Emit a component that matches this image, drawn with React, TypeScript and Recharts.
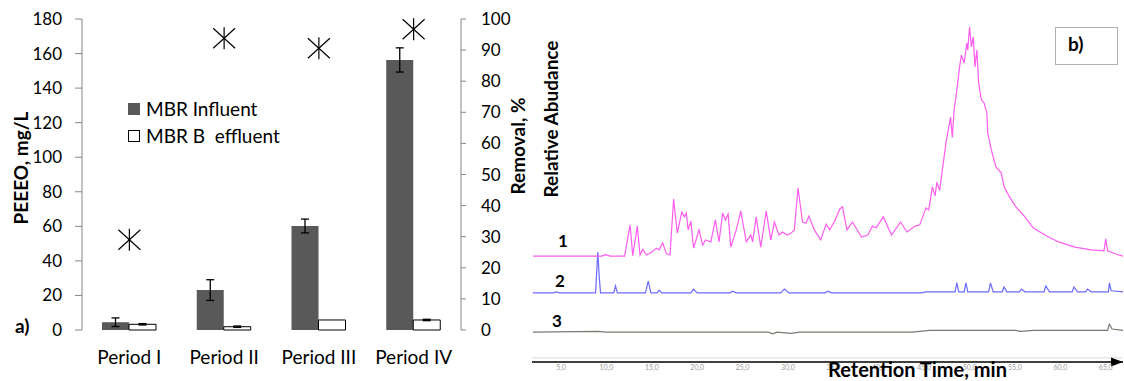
import {
  ComposedChart,
  LineChart,
  Bar,
  Line,
  XAxis,
  YAxis,
  ErrorBar,
  Legend,
  ReferenceLine,
} from "recharts";

// ---- panel a) PEEEO in MBR influent / effluent ----
const periods = ["Period I", "Period II", "Period III", "Period IV"];
const influent = [4.5, 23.1, 60.2, 156.3];
const influentErr = [2.5, 6, 4, 7];
const effluent = [3.3, 1.9, 5.8, 5.8];
const effluentErr = [0.4, 0.4, 0, 0.4];
const removal = [29, 93.8, 90.6, 96.7];
const concTicks = [0, 20, 40, 60, 80, 100, 120, 140, 160, 180];
const removalTicks = [0, 10, 20, 30, 40, 50, 60, 70, 80, 90, 100];
const boundaryTicks = [0, 1, 2, 3, 4];
const legendOrder = ["influent", "effluent"];

// ---- panel b) chromatograms: [retention time min, relative abundance] ----
const rtTicks = [5, 10, 15, 20, 25, 30, 35, 40, 45, 50, 55, 60, 65];

const trace1: [number, number][] = [
  [1.9, 30.8], [9.5, 30.8], [9.9, 31.2], [10.4, 30.8], [12.0, 30.8], [12.6, 39.8],
  [12.9, 30.9], [13.4, 39.5], [13.7, 31.1], [14.0, 32.8], [14.4, 31.1], [15.0, 32.0],
  [15.5, 33.1], [15.8, 32.6], [16.2, 34.6], [16.6, 31.5], [17.0, 31.1], [17.4, 47.4],
  [17.8, 37.5], [18.3, 43.6], [18.6, 42.2], [18.8, 43.3], [19.0, 38.4], [19.3, 41.0],
  [19.6, 33.1], [20.2, 38.4], [20.6, 34.0], [20.9, 35.5], [21.5, 34.9], [22.0, 41.3],
  [22.4, 34.9], [22.8, 43.3], [23.1, 41.3], [23.4, 43.0], [23.7, 33.4], [24.3, 38.4],
  [24.8, 43.9], [25.4, 34.9], [25.9, 36.9], [26.1, 34.9], [26.5, 42.2], [27.0, 33.4],
  [27.6, 43.9], [28.1, 35.5], [28.5, 40.7], [29.0, 36.9], [29.4, 37.8], [29.9, 36.9],
  [30.3, 37.4], [30.7, 38.4], [31.1, 50.6], [31.6, 40.7], [32.0, 40.4], [32.3, 42.4],
  [32.9, 38.4], [33.6, 35.5], [34.2, 40.1], [34.6, 38.4], [35.2, 41.3], [35.7, 44.5],
  [36.0, 45.1], [36.5, 38.4], [37.1, 40.7], [38.1, 36.3], [38.8, 36.9], [39.3, 39.5],
  [39.7, 39.0], [40.5, 42.2], [41.4, 36.9], [42.4, 40.7], [43.1, 37.8], [44.0, 39.5],
  [44.5, 39.8], [45.2, 44.8], [45.5, 44.2], [45.9, 50.9], [46.2, 48.3], [46.4, 52.3],
  [46.7, 49.8], [47.0, 55.8], [47.4, 63.7], [47.6, 66.6], [47.9, 71.2], [48.1, 65.3],
  [48.3, 73.3], [48.6, 79.1], [48.9, 85.8], [49.1, 89.2], [49.4, 86.9], [49.7, 92.7],
  [49.8, 90.7], [50.0, 97.4], [50.2, 91.6], [50.4, 94.5], [50.6, 85.8], [50.8, 90.7],
  [51.0, 81.1], [51.3, 76.2], [51.6, 75.3], [51.9, 72.4], [52.0, 66.6], [52.4, 61.6],
  [52.9, 56.7], [53.5, 54.9], [53.8, 50.9], [54.4, 48.0], [55.1, 45.1], [56.1, 42.2],
  [57.0, 39.0], [58.3, 36.9], [59.8, 34.9], [61.6, 33.4], [63.4, 32.6], [64.8, 32.3],
  [65.0, 35.8], [65.2, 32.3], [66.1, 31.4], [66.9, 30.8],
];

const trace2: [number, number][] = [
  [1.9, 20.1], [4.2, 20.1], [4.5, 20.4], [4.8, 20.1], [8.8, 20.1], [9.05, 32.0],
  [9.2, 25.0], [9.35, 20.1], [10.8, 20.1], [11.0, 22.1], [11.2, 20.1], [14.3, 20.1],
  [14.6, 23.5], [14.9, 20.1], [15.6, 20.1], [15.8, 20.9], [16.1, 20.1], [19.3, 20.1],
  [19.6, 21.2], [20.0, 20.1], [23.6, 20.1], [23.9, 20.6], [24.3, 20.1], [29.2, 20.1],
  [29.6, 21.2], [30.1, 20.1], [34.1, 20.1], [34.4, 20.6], [34.8, 20.1], [44.7, 20.1],
  [45.2, 20.4], [48.4, 20.4], [48.6, 23.0], [48.8, 20.4], [49.4, 20.4], [49.6, 23.0],
  [49.8, 20.4], [52.1, 20.4], [52.3, 23.0], [52.6, 20.4], [53.6, 20.4], [53.8, 21.8],
  [54.1, 20.4], [55.5, 20.4], [55.7, 21.2], [56.1, 20.4], [58.2, 20.4], [58.4, 22.1],
  [58.8, 20.4], [61.3, 20.4], [61.5, 21.8], [61.9, 20.4], [62.8, 20.4], [63.0, 21.2],
  [63.4, 20.4], [65.3, 20.4], [65.4, 23.0], [65.6, 20.7], [66.9, 20.4],
];

const trace3: [number, number][] = [
  [1.9, 8.7], [9.0, 8.9], [10.0, 8.7], [27.8, 8.7], [28.3, 8.2], [28.8, 8.7],
  [30.3, 8.3], [31.3, 8.7], [43.7, 8.7], [45.6, 9.2], [55.1, 9.2], [55.6, 8.9],
  [57.0, 9.2], [65.2, 9.2], [65.4, 11.0], [65.7, 9.6], [66.9, 9.2],
];

const FONT = "Lato, 'Open Sans', sans-serif";
const AXIS_GRAY = "#868686";

const barData = periods.map((period, i) => ({
  period,
  influent: influent[i],
  influentErr: influentErr[i],
  effluent: effluent[i],
  effluentErr: effluentErr[i],
  removal: removal[i],
}));

const toPoints = (arr: [number, number][]) => arr.map(([t, v]) => ({ t, v }));

function StarDot(props: any) {
  const { cx, cy } = props;
  if (cx == null || cy == null) return null;
  return (
    <g key={`star-${cx}`} stroke="#000" strokeWidth={1.2}>
      <line x1={cx - 11} y1={cy - 10} x2={cx + 11} y2={cy + 10} />
      <line x1={cx - 11} y1={cy + 10} x2={cx + 11} y2={cy - 10} />
      <line x1={cx} y1={cy - 11} x2={cx} y2={cy + 11} />
    </g>
  );
}

function BarLegend(props: any) {
  const payload = (props.payload || [])
    .filter((p: any) => legendOrder.includes(p.dataKey))
    .sort(
      (a: any, b: any) =>
        legendOrder.indexOf(a.dataKey) - legendOrder.indexOf(b.dataKey)
    );
  return (
    <div style={{ fontFamily: FONT, fontSize: 19, color: "#000" }}>
      {payload.map((entry: any) => (
        <div
          key={entry.value}
          style={{ display: "flex", alignItems: "center", height: 27 }}
        >
          <span
            style={{
              width: 10,
              height: 10,
              marginRight: 6,
              background: entry.color,
              border: `1px solid ${entry.color === "#ffffff" ? "#000" : entry.color}`,
            }}
          />
          <span style={{ whiteSpace: "pre" }}>{entry.value}</span>
        </div>
      ))}
    </div>
  );
}

function PanelA() {
  return (
    <ComposedChart
      width={530}
      height={381}
      data={barData}
      margin={{ top: 19, right: 0, bottom: 0, left: 0 }}
      barCategoryGap={20}
      barGap={0}
    >
      <XAxis
        xAxisId={0}
        type="number"
        domain={[0, 4]}
        ticks={boundaryTicks}
        allowDataOverflow
        height={0}
        tick={false}
        tickSize={6}
        stroke={AXIS_GRAY}
      />
      <XAxis
        xAxisId={1}
        dataKey="period"
        height={51}
        axisLine={false}
        tickLine={false}
        tickSize={0}
        tickMargin={21}
        tick={{ fontSize: 19, fill: "#000", fontFamily: FONT }}
      />
      <YAxis
        yAxisId="left"
        domain={[0, 180]}
        ticks={concTicks}
        width={82}
        tickSize={7}
        tickMargin={13}
        stroke={AXIS_GRAY}
        tick={{ fontSize: 17, fill: "#000", fontFamily: FONT }}
      />
      <YAxis
        yAxisId="right"
        orientation="right"
        domain={[0, 100]}
        ticks={removalTicks}
        width={69}
        tickSize={5}
        tickMargin={15}
        stroke={AXIS_GRAY}
        tick={{ fontSize: 17, fill: "#000", fontFamily: FONT, textAnchor: "start" }}
      />
      <Legend
        layout="vertical"
        align="center"
        verticalAlign="middle"
        content={<BarLegend />}
        wrapperStyle={{ left: 128, top: 95, width: 220, height: 60 }}
      />
      <Bar
        xAxisId={1}
        yAxisId="left"
        dataKey="influent"
        name="MBR Influent"
        fill="#595959"
        isAnimationActive={false}
      >
        <ErrorBar dataKey="influentErr" width={4} stroke="#000" strokeWidth={1.3} />
      </Bar>
      <Bar
        xAxisId={1}
        yAxisId="left"
        dataKey="effluent"
        name="MBR B  effluent"
        fill="#ffffff"
        stroke="#000"
        strokeWidth={1}
        isAnimationActive={false}
      >
        <ErrorBar dataKey="effluentErr" width={4} stroke="#000" strokeWidth={1.3} />
      </Bar>
      <Line
        xAxisId={1}
        yAxisId="right"
        dataKey="removal"
        stroke="none"
        legendType="none"
        dot={StarDot}
        activeDot={false}
        isAnimationActive={false}
      />
    </ComposedChart>
  );
}

function PanelB() {
  return (
    <LineChart
      width={604}
      height={381}
      margin={{ top: 18, right: 1, bottom: 0, left: 12 }}
    >
      <defs>
        <marker
          id="arrowHead"
          markerWidth={12}
          markerHeight={10}
          refX={12}
          refY={5}
          orient="auto-start-reverse"
          markerUnits="userSpaceOnUse"
        >
          <path d="M0,0.5 L12,5 L0,9.5 z" fill="#000" />
        </marker>
      </defs>
      <XAxis
        type="number"
        dataKey="t"
        domain={[1.8, 66.9]}
        ticks={rtTicks}
        allowDataOverflow
        height={19}
        tickLine={false}
        tickMargin={-3}
        tickFormatter={(v: number) => v.toFixed(1).replace(".", ",")}
        tick={{ fontSize: 7, fill: "#9a9a9a", fontFamily: FONT }}
        axisLine={{ stroke: "#000", strokeWidth: 1.5, markerEnd: "url(#arrowHead)" }}
      />
      <YAxis
        type="number"
        domain={[0, 100]}
        width={0}
        tick={false}
        tickLine={false}
        axisLine={{ stroke: "#000", strokeWidth: 1.5, markerStart: "url(#arrowHead)" }}
      />
      <ReferenceLine y={1.2} stroke="#dcdccf" strokeWidth={1} />
      <Line
        data={toPoints(trace3)}
        dataKey="v"
        stroke="#7a7a70"
        strokeWidth={1.2}
        dot={false}
        activeDot={false}
        isAnimationActive={false}
      />
      <Line
        data={toPoints(trace2)}
        dataKey="v"
        stroke="#6b6bff"
        strokeWidth={1.2}
        dot={false}
        activeDot={false}
        isAnimationActive={false}
      />
      <Line
        data={toPoints(trace1)}
        dataKey="v"
        stroke="#ff5cf0"
        strokeWidth={1.2}
        dot={false}
        activeDot={false}
        isAnimationActive={false}
      />
    </LineChart>
  );
}

const boldText = { fontFamily: FONT, fontWeight: 700, fill: "#000" } as const;

export default function App() {
  return (
    <div
      style={{
        position: "absolute",
        left: 0,
        top: 0,
        width: 1124,
        height: 381,
        background: "#fff",
        fontFamily: FONT,
        overflow: "hidden",
      }}
    >
      <div style={{ position: "absolute", left: 520, top: 0 }}>
        <PanelB />
      </div>
      <div style={{ position: "absolute", left: 0, top: 0 }}>
        <PanelA />
      </div>
      <svg
        width={1124}
        height={381}
        style={{ position: "absolute", left: 0, top: 0, pointerEvents: "none" }}
      >
        <text
          {...boldText}
          fontSize={19}
          x={20}
          y={168}
          textAnchor="middle"
          dominantBaseline="central"
          transform="rotate(-90 20 168)"
        >
          PEEEO, mg/L
        </text>
        <text
          {...boldText}
          fontSize={19}
          x={517}
          y={146}
          textAnchor="middle"
          dominantBaseline="central"
          transform="rotate(-90 517 146)"
        >
          Removal, %
        </text>
        <text {...boldText} fontSize={19} x={15} y={333}>
          a)
        </text>
        <text
          {...boldText}
          fontSize={19}
          x={550}
          y={119}
          textAnchor="middle"
          dominantBaseline="central"
          transform="rotate(-90 550 119)"
        >
          Relative Abudance
        </text>
        <text {...boldText} fontSize={20} x={828} y={377}>
          Retention Time, min
        </text>
        <rect x={1055.5} y={27.5} width={62} height={37} fill="#fff" stroke="#b0b0b0" />
        <text {...boldText} fontSize={19} x={1068} y={51}>
          b)
        </text>
        <text {...boldText} fontSize={17} x={558} y={247}>
          1
        </text>
        <text {...boldText} fontSize={17} x={555} y={287}>
          2
        </text>
        <text {...boldText} fontSize={17} x={552} y={327}>
          3
        </text>
      </svg>
    </div>
  );
}
